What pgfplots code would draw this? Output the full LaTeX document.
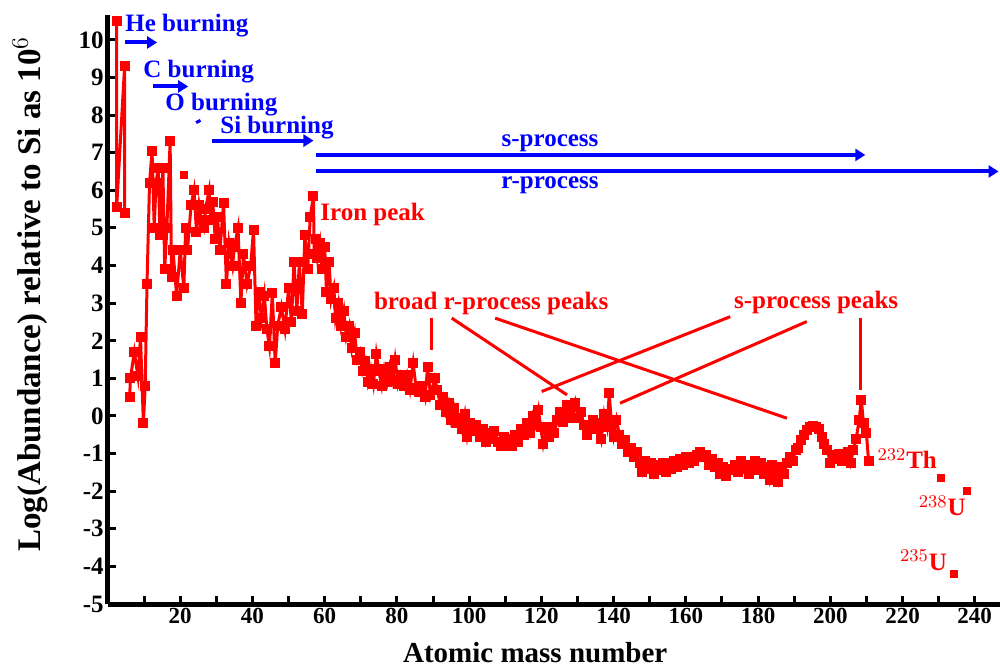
\documentclass[border=0pt]{standalone}
\usepackage{fontspec}
\setmainfont{Liberation Serif}
\usepackage{pgfplots}
\pgfplotsset{compat=1.18}
\usetikzlibrary{arrows.meta,calc}
\definecolor{pred}{RGB}{255,0,0}
\definecolor{pblue}{RGB}{0,0,255}
\newcommand{\annfont}{\bfseries\fontsize{12.5}{14}\selectfont}

\pgfplotstableread{
x y
2.4 10.5
2.4 5.55
4.6 9.3
4.6 5.4
5.3 nan
6.0 0.5
6.2 1.0
7.3 1.7
8.3 1.05
9.0 2.1
9.8 -0.2
10.3 0.8
10.8 3.5
11.5 6.2
12.2 7.05
12.8 5.0
13.3 6.2
13.9 6.6
14.4 4.8
15.2 6.6
15.7 3.9
16.3 5.0
17.2 7.3
17.6 3.7
18.0 4.4
19.0 3.2
20.0 4.4
21.0 3.4
21.5 5.0
22.0 4.4
23.0 5.6
23.8 6.0
24.5 4.9
25.2 5.6
25.8 5.2
26.5 5.0
27.0 5.5
28.0 6.0
28.5 5.2
29.0 5.7
29.7 4.7
30.3 5.3
31.0 4.4
32.0 5.65
32.8 3.5
33.5 4.6
34.5 4.0
35.0 4.5
36.0 5.0
36.8 3.0
37.5 4.3
38.5 3.5
39.5 4.0
40.3 4.95
41.0 2.4
41.7 3.3
42.5 2.6
43.3 3.2
44.0 2.3
44.7 1.85
45.5 3.26
46.3 1.4
47.0 2.4
48.0 2.9
49.0 2.3
50.0 3.4
50.8 2.5
51.5 4.1
52.3 2.8
53.0 4.1
53.8 2.7
54.5 4.8
55.3 3.9
56.0 5.3
56.9 5.85
57.1 4.3
57.5 4.7
58.0 4.2
58.7 4.6
59.3 3.9
60.0 4.5
60.5 3.3
61.2 4.1
61.8 3.1
62.5 3.4
63.0 2.6
63.8 3.0
64.5 2.4
65.3 2.8
66.0 2.1
66.8 2.4
67.5 1.8
68.3 2.2
69.0 1.5
69.8 1.7
70.5 1.2
71.3 1.45
72.0 0.9
72.8 1.25
73.5 0.85
74.3 1.65
75.0 1.2
75.8 0.8
76.5 1.25
77.3 0.9
78.0 1.3
78.8 0.95
79.5 1.5
80.3 0.85
81.0 1.1
82.0 0.8
82.8 1.1
83.6 0.7
84.5 1.4
85.3 0.75
86.0 0.65
87.0 0.8
87.8 0.5
88.5 1.3
89.3 0.55
90.5 1.0
91.2 0.7
92.0 0.3
92.8 0.5
93.5 0.1
94.3 0.35
95.0 -0.1
95.8 0.2
96.5 -0.2
97.3 -0.05
98.0 -0.35
98.8 0.05
99.5 -0.55
100.3 -0.2
101.0 -0.4
102.0 -0.25
103.0 -0.55
103.8 -0.35
104.6 -0.7
105.4 -0.45
106.2 -0.6
107.0 -0.4
108.0 -0.7
108.8 -0.8
109.6 -0.55
110.4 -0.8
111.2 -0.6
112.0 -0.8
112.8 -0.5
113.6 -0.7
114.4 -0.35
115.2 -0.5
116.0 -0.2
116.8 -0.45
117.6 0.0
118.4 -0.25
119.2 0.16
119.8 -0.3
120.5 -0.75
121.3 -0.35
122.0 -0.55
122.8 -0.3
123.6 -0.45
124.4 -0.1
125.2 0.1
126.0 -0.15
127.0 0.3
127.8 0.1
128.6 -0.05
129.4 0.35
130.2 -0.05
131.0 0.1
131.8 -0.25
132.6 -0.5
133.4 -0.3
134.2 -0.1
135.0 -0.35
135.8 -0.2
136.6 -0.6
137.4 0.05
138.2 -0.3
138.8 0.6
139.4 -0.2
140.0 -0.55
140.8 -0.1
141.6 -0.5
142.4 -0.75
143.2 -0.65
144.0 -0.95
144.8 -0.85
145.6 -1.1
146.4 -0.95
147.2 -1.25
148.0 -1.5
148.8 -1.2
149.6 -1.4
150.4 -1.25
151.2 -1.55
152.0 -1.3
152.8 -1.45
153.6 -1.25
154.4 -1.5
155.2 -1.25
156.0 -1.4
156.8 -1.2
157.6 -1.35
158.4 -1.15
159.2 -1.3
160.0 -1.1
160.8 -1.25
161.6 -1.1
162.4 -1.2
163.2 -1.05
164.0 -0.95
164.8 -1.1
165.6 -1.05
166.4 -1.3
167.2 -1.15
168.0 -1.35
168.8 -1.25
169.6 -1.55
170.4 -1.35
171.2 -1.6
172.0 -1.4
172.8 -1.45
173.6 -1.3
174.4 -1.5
175.2 -1.2
176.0 -1.4
176.8 -1.3
177.6 -1.55
178.4 -1.35
179.2 -1.2
180.0 -1.45
180.8 -1.25
181.6 -1.55
182.4 -1.35
183.2 -1.7
184.0 -1.3
184.8 -1.5
185.6 -1.75
186.4 -1.35
187.2 -1.55
188.0 -1.25
188.8 -1.1
189.6 -1.2
190.4 -0.9
191.2 -0.85
192.0 -0.65
192.8 -0.5
193.6 -0.38
194.4 -0.3
195.2 -0.28
196.0 -0.3
196.8 -0.35
197.6 -0.55
198.4 -0.75
199.2 -0.9
200.0 -1.25
200.8 -1.05
201.6 -1.15
202.4 -1.0
203.2 -1.2
204.0 -1.0
204.8 -0.95
205.6 -1.25
206.4 -0.9
207.2 -0.6
208.0 -0.1
208.6 0.43
209.2 -0.2
210.0 -0.45
210.6 -1.2
}\abund

\pgfplotstableread{
x y
20.9 6.4
230.5 -1.66
237.8 -1.98
234.3 -4.2
}\isolated

\begin{document}
\begin{tikzpicture}
\begin{axis}[
  name=ax,
  scale only axis,
  width=446pt, height=294.5pt,
  xmin=0, xmax=247, ymin=-5, ymax=10.66,
  axis lines=left,
  axis line style={line width=2.5pt, black, -},
  tick align=inside,
  major tick length=4pt, minor tick length=4pt,
  every tick/.style={line width=1.5pt, black},
  xtick={20,40,...,240},
  minor xtick={10,30,...,230},
  ytick={-5,-4,...,10},
  /pgf/number format/assume math mode=true,
  xticklabel style={font=\bfseries\fontsize{11.5}{12}\selectfont, inner sep=2pt},
  yticklabel style={font=\bfseries\fontsize{12.5}{13}\selectfont, inner sep=2pt},
  unbounded coords=jump,
  clip=false,
]
\addplot[color=pred, line width=1.5pt, mark=square*, mark size=1.75pt, mark options={solid, fill=pred}] table[x=x,y=y] {\abund};
\addplot[only marks, color=pred, mark=square*, mark size=1.75pt, mark options={fill=pred}] table[x=x,y=y] {\isolated};

% blue annotations
\draw[pblue, line width=2pt, -{Triangle[length=5pt,width=6pt]}] (axis cs:4.7,9.93) -- (axis cs:13.6,9.93);
\draw[pblue, line width=2pt, -{Triangle[length=5pt,width=6pt]}] (axis cs:12.5,8.76) -- (axis cs:22.2,8.76);
\draw[pblue, line width=1.5pt] (axis cs:24.4,7.80) -- (axis cs:25.6,7.86);
\draw[pblue, line width=2pt, -{Triangle[length=5pt,width=6pt]}] (axis cs:28.7,7.32) -- (axis cs:56.9,7.32);
\draw[pblue, line width=2pt, -{Triangle[length=5pt,width=6pt]}] (axis cs:57.6,6.94) -- (axis cs:209.7,6.94);
\draw[pblue, line width=2pt, -{Triangle[length=5pt,width=6pt]}] (axis cs:57.6,6.50) -- (axis cs:246.6,6.50);
\node[anchor=west, inner sep=0, text=pblue, font=\annfont] at (axis cs:4.7,10.37) {He burning};
\node[anchor=west, inner sep=0, text=pblue, font=\annfont] at (axis cs:9.7,9.15) {C burning};
\node[anchor=west, inner sep=0, text=pblue, font=\annfont] at (axis cs:15.8,8.27) {O burning};
\node[anchor=west, inner sep=0, text=pblue, font=\annfont] at (axis cs:31.0,7.66) {Si burning};
\node[inner sep=0, text=pblue, font=\annfont] at (axis cs:122.4,7.26) {s-process};
\node[inner sep=0, text=pblue, font=\annfont] at (axis cs:122.4,6.14) {r-process};

% red annotations
\node[anchor=west, inner sep=0, text=pred, font=\annfont] at (axis cs:58.7,5.36) {Iron peak};
\node[inner sep=0, text=pred, font=\annfont] at (axis cs:106.1,2.98) {broad r-process peaks};
\node[inner sep=0, text=pred, font=\annfont] at (axis cs:196.1,3.02) {s-process peaks};
\draw[pred, line width=1.5pt] (axis cs:89.5,2.60) -- (axis cs:89.5,1.76);
\draw[pred, line width=1.5pt] (axis cs:95.2,2.60) -- (axis cs:127.1,0.56);
\draw[pred, line width=1.5pt] (axis cs:107.2,2.60) -- (axis cs:188.0,-0.06);
\draw[pred, line width=1.5pt] (axis cs:172.3,2.64) -- (axis cs:120.1,0.65);
\draw[pred, line width=1.5pt] (axis cs:193.5,2.51) -- (axis cs:141.8,0.34);
\draw[pred, line width=1.5pt] (axis cs:208.5,2.60) -- (axis cs:208.5,0.69);
\node[inner sep=0, text=pred, font=\annfont] at (axis cs:221.3,-1.14) {$^{232}$Th};
\node[inner sep=0, text=pred, font=\annfont] at (axis cs:231.0,-2.39) {$^{238}$U};
\node[inner sep=0, text=pred, font=\annfont] at (axis cs:225.8,-3.83) {$^{235}$U};

% axis labels
\node[anchor=base, inner sep=0, font=\bfseries\fontsize{14.5}{15}\selectfont] at (axis cs:118.3,-6.55) {Atomic mass number};
\node[rotate=90, inner sep=0, font=\bfseries\fontsize{16.5}{17}\selectfont] at (axis cs:-21.6,3.24) {Log(Abundance) relative to Si as 10$^{6}$};
\end{axis}
\pgfresetboundingbox
\path[use as bounding box] ($(ax.south west)+(-54pt,-31pt)$) rectangle ($(ax.north east)+(0pt,7.5pt)$);
\end{tikzpicture}
\end{document}
